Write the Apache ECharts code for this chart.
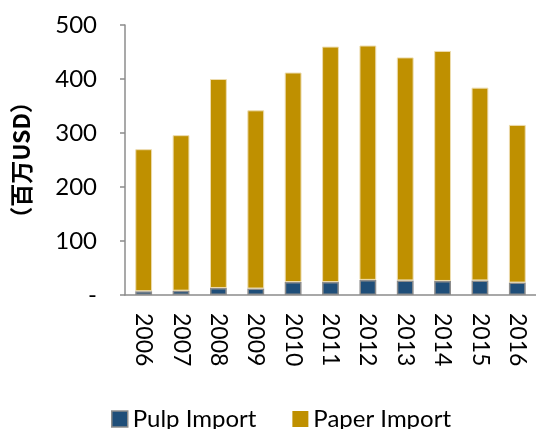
<!DOCTYPE html>
<html><head><meta charset="utf-8">
<script src="https://cdn.jsdelivr.net/npm/echarts@6/dist/echarts.min.js"></script>
<style>html,body{margin:0;padding:0;background:#fff}#c{width:536px;height:429px}</style>
</head><body><div id="c"></div>
<script>
const years = ['2006','2007','2008','2009','2010','2011','2012','2013','2014','2015','2016'];
const pulpImport = [7, 8, 13, 12, 24, 24, 28, 27, 26, 27, 23];
const paperImport = [263, 288, 387, 330, 388, 436, 434, 413, 426, 357, 292];
const yTicks = [0, 100, 200, 300, 400, 500];
const FONT = 'Lato, "Open Sans", sans-serif';
const chart = echarts.init(document.getElementById('c'));
chart.setOption({
  animation: false,
  grid: {left: 125, top: 25, right: -1, bottom: 134, containLabel: false},
  legend: {
    top: 402, left: 106, itemWidth: 16, itemHeight: 16, itemGap: 36, icon: 'rect',
    textStyle: {fontFamily: FONT, fontSize: 24, color: '#000'},
    data: [
      {name: 'Pulp Import', itemStyle: {color: '#1F4E79', borderColor: '#8c8c8c', borderWidth: 1.5}},
      {name: 'Paper Import', itemStyle: {color: '#BF9000', borderWidth: 0}}
    ]
  },
  xAxis: {
    type: 'category', data: years,
    axisLine: {lineStyle: {color: '#8c8c8c', width: 1.5}},
    axisTick: {length: 6, lineStyle: {color: '#8c8c8c', width: 1.5}},
    axisLabel: {rotate: -90, margin: 18, fontFamily: FONT, fontSize: 23, color: '#000'}
  },
  yAxis: {
    type: 'value', min: 0, max: 500, interval: 100,
    name: '（百万USD）', nameLocation: 'middle', nameRotate: 90, nameGap: 92,
    nameTextStyle: {fontFamily: '"Noto Sans CJK SC", sans-serif', fontSize: 23, fontWeight: 'bold', color: '#000'},
    splitLine: {show: false},
    axisLine: {show: true, lineStyle: {color: '#8c8c8c', width: 1.5}},
    axisTick: {show: true, length: 5, lineStyle: {color: '#8c8c8c', width: 1.5}},
    axisLabel: {margin: 28, fontFamily: FONT, fontSize: 24, color: '#000',
      formatter: v => (yTicks.indexOf(v) >= 0 && v === 0) ? '-' : String(v)}
  },
  series: [
    {name: 'Pulp Import', type: 'bar', stack: 'a', data: pulpImport, barWidth: '45%',
      itemStyle: {color: '#1F4E79', borderColor: '#8c8c8c', borderWidth: 1.5}},
    {name: 'Paper Import', type: 'bar', stack: 'a', data: paperImport, barWidth: '45%',
      itemStyle: {color: '#BF9000', borderColor: '#eddcae', borderWidth: 1}}
  ]
});
</script></body></html>
